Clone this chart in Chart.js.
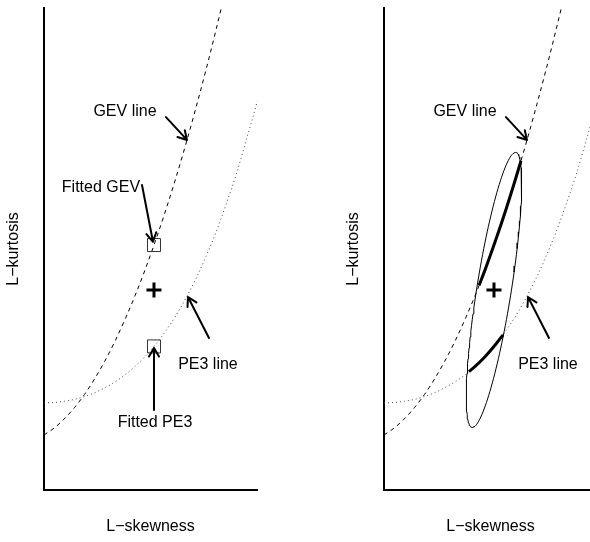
<!DOCTYPE html>
<html>
<head>
<meta charset="utf-8">
<script src="https://cdn.jsdelivr.net/npm/chart.js@4/dist/chart.umd.min.js"></script>
<style>
  html, body { margin: 0; padding: 0; background: #fff; }
  #wrap { position: relative; width: 590px; height: 542px; overflow: hidden; background: #fff; }
  .panel { position: absolute; top: 0; width: 295px; height: 542px; }
</style>
</head>
<body>
<div id="wrap">
  <div class="panel" style="left:0"><canvas id="left" width="295" height="542"></canvas></div>
  <div class="panel" style="left:340px"><canvas id="right" width="295" height="542"></canvas></div>
</div>
<script>
// L-moment ratio diagram: theoretical GEV and PE3 lines, the sample
// L-moment ratios (+), the fitted distributions and a confidence ellipse.

// GEV line (L-skewness, L-kurtosis)
const skewGEV = [0, 0.025, 0.05, 0.075, 0.1, 0.125, 0.15, 0.175, 0.2, 0.225,
                 0.25, 0.275, 0.3, 0.325, 0.35, 0.375, 0.4, 0.425, 0.45];
const kurtGEV = [0.1070, 0.1103, 0.1147, 0.1201, 0.1265, 0.1340, 0.1425, 0.1520, 0.1626, 0.1741,
                 0.1867, 0.2003, 0.2148, 0.2303, 0.2468, 0.2643, 0.2827, 0.3021, 0.3224];

// PE3 line (L-skewness, L-kurtosis)
const skewPE3 = [0, 0.025, 0.05, 0.075, 0.1, 0.125, 0.15, 0.175, 0.2, 0.225, 0.25, 0.275,
                 0.3, 0.325, 0.35, 0.375, 0.4, 0.425, 0.45, 0.475, 0.5, 0.525, 0.55];
const kurtPE3 = [0.1224, 0.1226, 0.1232, 0.1241, 0.1255, 0.1273, 0.1297, 0.1325, 0.1359, 0.1400, 0.1448, 0.1504,
                 0.1569, 0.1642, 0.1727, 0.1821, 0.1929, 0.2047, 0.2182, 0.2326, 0.2493, 0.2665, 0.2869];

// sample L-moment ratios and the two fitted distributions
const sampleLmr = [0.2716, 0.1768];
const fittedGEV = [0.2716, 0.1984];
const fittedPE3 = [0.2716, 0.1496];

// confidence ellipse around the sample point (two conjugate half-axes)
const ellipseAxisA = [0.0531, 0.0662];
const ellipseAxisB = [0.0432, 0.0];

// parts of the two lines lying inside the ellipse
const skewGEVin = [0.2346, 0.25, 0.275, 0.3, 0.325, 0.3383];
const kurtGEVin = [0.1789, 0.1867, 0.2003, 0.2148, 0.2303, 0.2390];
const skewPE3in = [0.2099, 0.225, 0.25, 0.275, 0.2938];
const kurtPE3in = [0.1375, 0.1400, 0.1448, 0.1504, 0.1552];

// axis ranges
const skewRange = [0, 0.526];
const kurtRange = [0.0805, 0.3125];

const FONT = '"Liberation Sans", Arial, Helvetica, sans-serif';

const pts = (xs, ys) => xs.map((v, i) => ({ x: v, y: ys[i] }));

const ellipsePts = [];
for (let k = 0; k <= 144; k++) {
  const u = 2 * Math.PI * k / 144;
  ellipsePts.push({
    x: sampleLmr[0] + ellipseAxisA[0] * Math.cos(u) + ellipseAxisB[0] * Math.sin(u),
    y: sampleLmr[1] + ellipseAxisA[1] * Math.cos(u) + ellipseAxisB[1] * Math.sin(u)
  });
}

// labelled arrows (label position, arrow tail, arrow tip) in data units
const noteGEVline  = { text: 'GEV line',   at: [0.2000, 0.2624], from: [0.3012, 0.2600], to: [0.3531, 0.2490] };
const noteFitGEV   = { text: 'Fitted GEV', at: [0.1407, 0.2259], from: [0.2420, 0.2273], to: [0.2691, 0.2000] };
const notePE3line  = { text: 'PE3 line',   at: [0.4049, 0.1407], from: [0.4074, 0.1537], to: [0.3556, 0.1734] };
const noteFitPE3   = { text: 'Fitted PE3', at: [0.2741, 0.1128], from: [0.2716, 0.1190], to: [0.2716, 0.1489] };

function notesPlugin(items) {
  return {
    id: 'notes',
    afterDatasetsDraw(chart) {
      const { ctx, scales: { x, y } } = chart;
      ctx.save();
      ctx.font = '16px ' + FONT;
      ctx.fillStyle = '#000';
      ctx.strokeStyle = '#000';
      ctx.textAlign = 'center';
      ctx.textBaseline = 'middle';
      ctx.lineWidth = 2;
      ctx.lineCap = 'round';
      ctx.lineJoin = 'round';
      for (const n of items) {
        ctx.fillText(n.text, x.getPixelForValue(n.at[0]), y.getPixelForValue(n.at[1]));
        const x0 = x.getPixelForValue(n.from[0]), y0 = y.getPixelForValue(n.from[1]);
        const x1 = x.getPixelForValue(n.to[0]),   y1 = y.getPixelForValue(n.to[1]);
        const ang = Math.atan2(y1 - y0, x1 - x0);
        const len = 10, spread = Math.PI / 6;
        ctx.beginPath();
        ctx.moveTo(x0, y0);
        ctx.lineTo(x1, y1);
        ctx.moveTo(x1 - len * Math.cos(ang - spread), y1 - len * Math.sin(ang - spread));
        ctx.lineTo(x1, y1);
        ctx.lineTo(x1 - len * Math.cos(ang + spread), y1 - len * Math.sin(ang + spread));
        ctx.stroke();
      }
      ctx.restore();
    }
  };
}

function curve(data, dash, color, width) {
  return {
    data, showLine: true, borderColor: color, borderWidth: width, borderDash: dash,
    pointRadius: 0, cubicInterpolationMode: 'monotone', fill: false
  };
}

function marker(p, style, radius, width, color) {
  return {
    data: [{ x: p[0], y: p[1] }], showLine: false, pointStyle: style,
    pointRadius: radius, pointBorderWidth: width, pointBorderColor: color,
    pointBackgroundColor: 'rgba(0,0,0,0)'
  };
}

function axisOpts(min, max, title, pad) {
  return {
    type: 'linear', min, max,
    grid: { display: false, drawTicks: false },
    ticks: { display: false },
    border: { display: true, color: '#000', width: 2 },
    title: { display: true, text: title, color: '#000', font: { family: FONT, size: 16 }, padding: pad }
  };
}

function makeChart(id, datasets, notes) {
  return new Chart(document.getElementById(id), {
    type: 'scatter',
    data: { datasets },
    options: {
      responsive: false,
      animation: false,
      events: [],
      layout: { autoPadding: false, padding: { top: 8, right: 38, bottom: 0, left: 0 } },
      plugins: { legend: { display: false }, tooltip: { enabled: false } },
      scales: {
        x: axisOpts(skewRange[0], skewRange[1], 'L\u2212skewness', { top: 27.4, bottom: 5.4 }),
        y: axisOpts(kurtRange[0], kurtRange[1], 'L\u2212kurtosis', { top: 4, bottom: 20.8 })
      }
    },
    plugins: [notesPlugin(notes)]
  });
}

const gevLine = () => curve(pts(skewGEV, kurtGEV), [4, 4], '#000', 1);
const pe3Line = () => curve(pts(skewPE3, kurtPE3), [1, 3], '#444', 1);

makeChart('left', [
  marker(sampleLmr, 'cross', 7.5, 3, '#000'),
  marker(fittedGEV, 'rect', 9.2, 1, '#333'),
  marker(fittedPE3, 'rect', 9.2, 1, '#333'),
  gevLine(),
  pe3Line()
], [noteGEVline, noteFitGEV, notePE3line, noteFitPE3]);

makeChart('right', [
  marker(sampleLmr, 'cross', 7.5, 3, '#000'),
  curve(pts(skewGEVin, kurtGEVin), [], '#000', 3),
  curve(pts(skewPE3in, kurtPE3in), [], '#000', 3),
  { data: ellipsePts, showLine: true, borderColor: '#000', borderWidth: 1, pointRadius: 0, tension: 0, fill: false },
  gevLine(),
  pe3Line()
], [noteGEVline, notePE3line]);
</script>
</body>
</html>
